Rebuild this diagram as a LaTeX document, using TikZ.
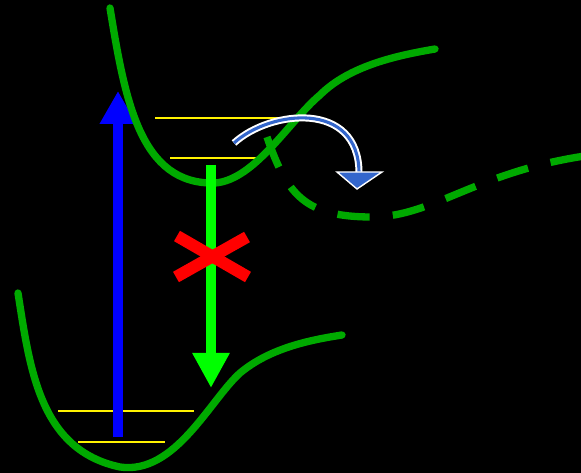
\documentclass[tikz,border=0pt]{standalone}
\usepackage{tikz}
\usetikzlibrary{arrows.meta,calc}
\definecolor{curvegreen}{RGB}{0,170,0}
\definecolor{brightgreen}{RGB}{0,255,0}
\definecolor{swapblue}{RGB}{51,102,204}
\tikzset{
  pescurve/.style={curvegreen, line width=5.2pt, line cap=round},
  pesdashed/.style={curvegreen, line width=5.2pt, dash pattern=on 23pt off 16.5pt},
  levelline/.style={yellow, line width=2pt},
  absarrow/.style={-{Triangle[length=23.4pt, width=24.5pt]}, blue, line width=7.8pt},
  emitarrow/.style={-{Triangle[length=25pt, width=25pt]}, brightgreen, line width=7.8pt},
  crossbar/.style={red, line width=8.5pt},
  hopoutline/.style={white, line width=5pt},
  hopfill/.style={swapblue, line width=2.2pt}
}
\begin{document}
\begin{tikzpicture}[x=0.025cm, y=-0.025cm]
      \fill[black] (0,0) rectangle (581,473);
      \useasboundingbox (0,0) rectangle (581,473);
      % vibrational levels
      \draw[levelline] (58,411) -- (194,411);
      \draw[levelline] (78,442) -- (165,442);
      \draw[levelline] (155,118) -- (296,118);
      \draw[levelline] (170,158) -- (258,158);
      % absorption
      \coordinate (absfoot) at (118,437);
      \coordinate (abstop) at (118,91);
      \draw[absarrow] (absfoot) -- (abstop);
      % potential curves
      \draw[pescurve] (18,293) .. controls (30,370) and (40,450) .. (120,467)
        .. controls (175,475) and (210,400) .. (240,373)
        .. controls (270,348) and (310,340) .. (342,335);
      \draw[pescurve] (110,8) .. controls (125,100) and (140,185) .. (215,183)
        .. controls (255,180) and (290,120) .. (320,95)
        .. controls (350,65) and (400,55) .. (435,49);
      \draw[pesdashed] (267,137) .. controls (287,195) and (305,217) .. (372,217)
        .. controls (435,217) and (480,168) .. (600,154);
      % emission, blocked
      \coordinate (emittop) at (211,165);
      \coordinate (emitfoot) at (211,388);
      \draw[emitarrow] (emittop) -- (emitfoot);
      \draw[crossbar] (177,236) -- (248,277);
      \draw[crossbar] (176,277) -- (247,237);
      % crossing arrow
      \coordinate (hopstart) at (234,143);
      \coordinate (hopend) at (359,173);
      \draw[hopoutline] (hopstart) .. controls (270,110) and (359,100) .. (hopend);
      \draw[hopfill] (hopstart) .. controls (270,110) and (359,100) .. (hopend);
      \filldraw[swapblue, draw=white, line width=1pt] (337,172) -- (382,172) -- (357,189) -- cycle;
\end{tikzpicture}
\end{document}
